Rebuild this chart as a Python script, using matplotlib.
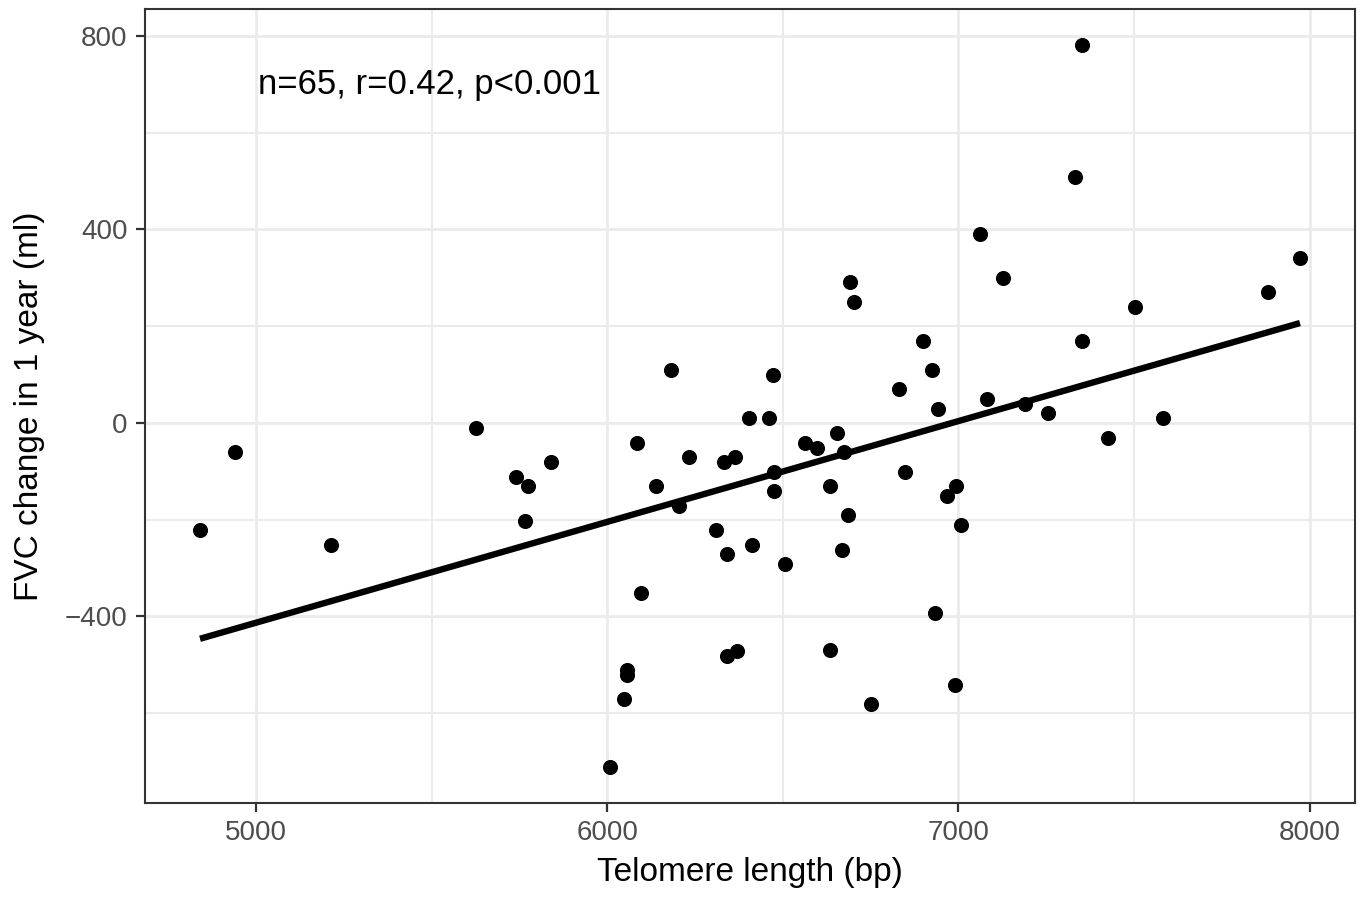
import numpy as np
import matplotlib
matplotlib.use("Agg")
import matplotlib.pyplot as plt
from matplotlib.ticker import MultipleLocator

plt.rcParams["font.family"] = ["Liberation Sans", "DejaVu Sans"]

# telomere length (bp) and 1-year FVC change (ml), one entry per patient
telomere_bp = [
    4841, 4940, 5213, 5628, 5741, 5776, 5767, 5841, 6009, 6048,
    6057, 6057, 6085, 6097, 6139, 6182, 6205, 6233, 6310, 6332,
    6341, 6341, 6364, 6369, 6403, 6412, 6460, 6472, 6474, 6474,
    6506, 6562, 6597, 6634, 6634, 6653, 6668, 6673, 6685, 6690,
    6702, 6750, 6832, 6847, 6898, 6926, 6932, 6943, 6966, 6989,
    6994, 7006, 7062, 7080, 7128, 7190, 7256, 7332, 7352, 7352,
    7426, 7503, 7582, 7881, 7972,
]
fvc_change_ml = [
    -221, -60, -252, -10, -111, -130, -202, -80, -711, -571,
    -511, -522, -41, -351, -130, 109, -171, -70, -221, -80,
    -270, -482, -70, -472, 10, -252, 10, 99, -101, -140,
    -291, -41, -52, -130, -470, -21, -262, -60, -190, 291,
    249, -581, 70, -101, 169, 109, -392, 29, -151, -542,
    -130, -210, 390, 49, 299, 39, 21, 509, 169, 781,
    -31, 239, 10, 270, 340,
]
stats_label = "n=65, r=0.42, p<0.001"

x_ticks = [5000, 6000, 7000, 8000]
y_ticks = [-400, 0, 400, 800]


def main():
    x = np.array(telomere_bp, dtype=float)
    y = np.array(fvc_change_ml, dtype=float)

    fig = plt.figure(figsize=(13.63, 8.99), dpi=100)
    ax = fig.add_axes([0.1064, 0.1068, 0.8877, 0.8832])

    # least squares line over the observed range
    slope, intercept = np.polyfit(x, y, 1)
    xs = np.array([x.min(), x.max()])

    ax.scatter(x, y, s=118, color="black", linewidths=0, zorder=3)
    ax.plot(xs, slope * xs + intercept, color="black", linewidth=4.6,
            solid_capstyle="butt", zorder=4)

    # 5% padding like ggplot
    xpad = (x.max() - x.min()) * 0.05
    ypad = (y.max() - y.min()) * 0.05
    ax.set_xlim(x.min() - xpad, x.max() + xpad)
    ax.set_ylim(y.min() - ypad, y.max() + ypad)

    ax.set_xticks(x_ticks)
    ax.set_yticks(y_ticks)
    ax.xaxis.set_minor_locator(MultipleLocator(500))
    ax.yaxis.set_minor_locator(MultipleLocator(200))
    ax.grid(which="major", color="#EBEBEB", linewidth=2.0, zorder=0)
    ax.grid(which="minor", color="#EBEBEB", linewidth=1.5, zorder=0)
    ax.set_axisbelow(True)

    ax.tick_params(which="major", length=6.5, width=1.6, color="#333333",
                   labelsize=20, labelcolor="#4D4D4D", pad=6)
    ax.tick_params(which="minor", length=0)
    for sp in ax.spines.values():
        sp.set_color("#333333")
        sp.set_linewidth(1.5)

    ax.set_xlabel("Telomere length (bp)", fontsize=24, labelpad=8)
    ax.set_ylabel("FVC change in 1 year (ml)", fontsize=24, labelpad=14)

    ax.text(5005, 700, stats_label, fontsize=25, ha="left", va="center",
            color="black")

    fig.savefig("out.png", dpi=100)


if __name__ == "__main__":
    main()
